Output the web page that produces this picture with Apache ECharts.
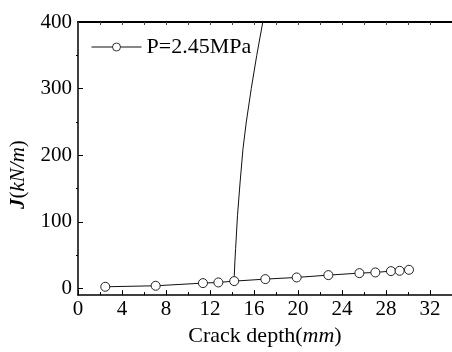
<!DOCTYPE html>
<html>
<head>
<meta charset="utf-8">
<script src="https://cdn.jsdelivr.net/npm/echarts@6/dist/echarts.min.js"></script>
<style>
  html, body { margin: 0; padding: 0; background: #fff; }
  #chart { width: 452px; height: 352px; }
</style>
</head>
<body>
<div id="chart"></div>
<script>
// J-integral versus crack depth at P = 2.45 MPa
const crackDepth = [2.48, 7.06, 11.36, 12.76, 14.2, 17.03, 19.88, 22.76, 25.58, 27.03, 28.45, 29.24, 30.09];
const jValues    = [2.5, 4, 8, 9, 11, 14, 16.5, 20, 23, 24, 26, 26.5, 28];

// steep branch rising from the 14.2 mm point
const branchDepth = [14.2, 14.21, 14.26, 14.33, 14.5, 14.74, 15.0, 15.3, 15.75, 16.25, 16.8];
const branchJ     = [11, 20, 40, 60, 110, 160, 210, 250, 300, 350, 400];

const xTicks = [0, 4, 8, 12, 16, 20, 24, 28, 32];
const yTicks = [0, 100, 200, 300, 400];
const yMinorTicks = [50, 150, 250, 350];
const seriesName = 'P=2.45MPa';

const FONT = 'Liberation Serif, Times New Roman, serif';
const INK = '#000';
const FS = 21;

const chart = echarts.init(document.getElementById('chart'), null, { renderer: 'canvas' });

const main = crackDepth.map((x, i) => [x, jValues[i]]);
const branch = branchDepth.map((x, i) => [x, branchJ[i]]);

chart.setOption({
  animation: false,
  backgroundColor: '#fff',
  grid: { left: 78, right: 0, top: 22, bottom: 54, containLabel: false },
  legend: {
    data: [seriesName],
    left: 86,
    top: 31,
    itemWidth: 50,
    itemHeight: 10,
    itemGap: 6,
    itemStyle: { color: '#fff', borderColor: '#333', borderWidth: 1 },
    lineStyle: { color: '#111', width: 1 },
    textStyle: { fontFamily: FONT, fontSize: 22, color: INK }
  },
  xAxis: [
    {
      type: 'value',
      position: 'bottom',
      min: 0,
      max: 34,
      interval: 4,
      axisLine: { show: true, onZero: false, lineStyle: { color: INK, width: 1.5 } },
      axisTick: { show: true, inside: true, length: 5, lineStyle: { color: INK, width: 1 },
                  customValues: xTicks },
      minorTick: { show: true, splitNumber: 2, length: 3, lineStyle: { color: INK, width: 1 } },
      axisLabel: { fontFamily: FONT, fontSize: FS, color: INK, margin: 4, customValues: xTicks },
      splitLine: { show: false },
      name: 'Crack depth({i|mm})',
      nameLocation: 'middle',
      nameGap: 28,
      nameTextStyle: {
        fontFamily: FONT, fontSize: 22, color: INK,
        rich: { i: { fontFamily: FONT, fontSize: 22, fontStyle: 'italic', color: INK } }
      }
    },
    {
      type: 'value',
      position: 'top',
      min: 0,
      max: 34,
      interval: 2,
      axisLine: { show: true, onZero: false, lineStyle: { color: INK, width: 2 } },
      axisTick: { show: true, inside: true, length: 3, lineStyle: { color: '#444', width: 1 } },
      axisLabel: { show: false },
      splitLine: { show: false }
    }
  ],
  yAxis: [
    {
      type: 'value',
      position: 'left',
      min: -10,
      max: 400,
      axisLine: { show: true, onZero: false, lineStyle: { color: INK, width: 1.5 } },
      axisTick: { show: true, inside: true, length: 5, lineStyle: { color: INK, width: 1 },
                  customValues: yTicks },
      axisLabel: { fontFamily: FONT, fontSize: FS, color: INK, margin: 6, customValues: yTicks },
      splitLine: { show: false },
      name: '{b|J}({i|kN/m})',
      nameLocation: 'middle',
      nameGap: 49,
      nameRotate: 90,
      nameTextStyle: {
        fontFamily: FONT, fontSize: FS, color: INK,
        padding: [0, 32, 0, 0],
        rich: {
          b: { fontFamily: FONT, fontSize: FS, fontStyle: 'italic', fontWeight: 'bold', color: INK },
          i: { fontFamily: FONT, fontSize: FS, fontStyle: 'italic', color: INK }
        }
      }
    },
    {
      type: 'value',
      position: 'left',
      min: -10,
      max: 400,
      axisLine: { show: false },
      axisTick: { show: true, inside: false, length: 2, lineStyle: { color: INK, width: 1 },
                  customValues: yMinorTicks },
      axisLabel: { show: false },
      splitLine: { show: false }
    }
  ],
  series: [
    {
      name: seriesName,
      type: 'line',
      data: main,
      xAxisIndex: 0,
      yAxisIndex: 0,
      symbol: 'circle',
      symbolSize: 9,
      showAllSymbol: true,
      lineStyle: { color: '#111', width: 1 },
      itemStyle: { color: '#fff', borderColor: '#222', borderWidth: 1 },
      z: 3
    },
    {
      name: 'branch',
      type: 'line',
      data: branch,
      xAxisIndex: 0,
      yAxisIndex: 0,
      symbol: 'none',
      smooth: false,
      lineStyle: { color: '#111', width: 1 },
      clip: true,
      z: 2
    }
  ]
});
</script>
</body>
</html>
